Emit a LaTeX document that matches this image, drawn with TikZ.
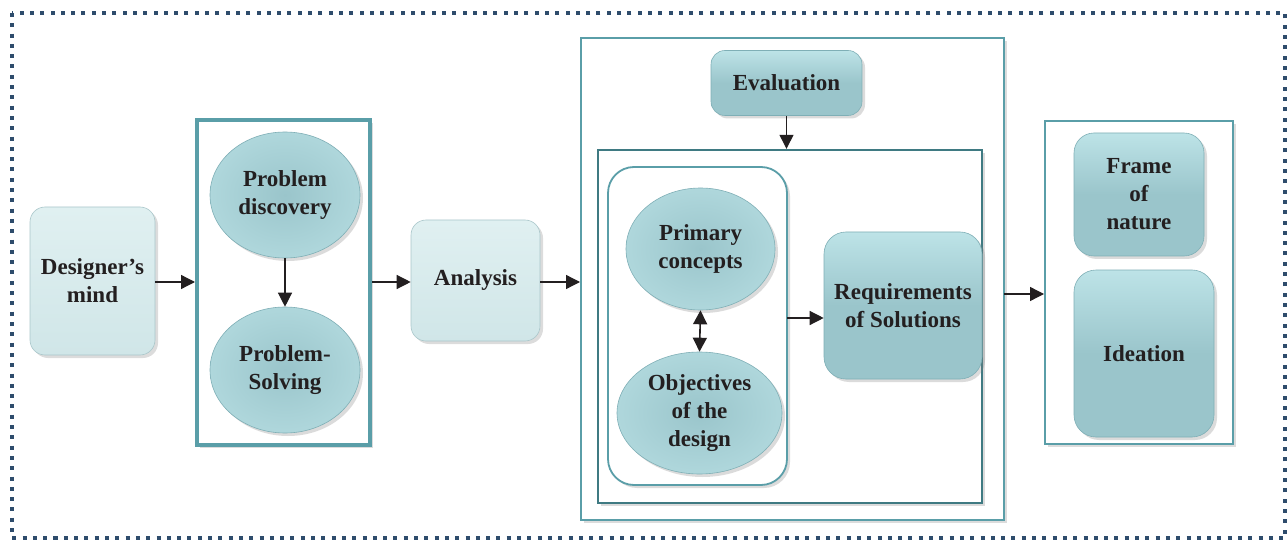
\documentclass[tikz,border=0pt]{standalone}
\usepackage{fontspec}
\setmainfont{Liberation Serif}
\usetikzlibrary{shapes.geometric,arrows.meta,shadows,calc}

\definecolor{ink}{HTML}{231F20}
\definecolor{teal}{HTML}{5A9EA8}
\definecolor{tealdark}{HTML}{3F7A82}
\definecolor{dotblue}{HTML}{2E4C6C}
\definecolor{tealfill}{HTML}{9AC5CB}
\definecolor{teallight}{HTML}{BDE3E7}
\definecolor{tealedge}{HTML}{7FAFB6}
\definecolor{palefill}{HTML}{D0E6E8}
\definecolor{palelight}{HTML}{E0F0F1}
\definecolor{paleedge}{HTML}{A9C6CA}

\tikzset{
  lbl/.style={font=\bfseries\fontsize{23}{28}\selectfont, text=ink, align=center},
  softshadow/.style={drop shadow={shadow xshift=3pt, shadow yshift=-3pt, opacity=.28, fill=gray}},
  palebox/.style={lbl, rectangle, rounded corners=15pt, draw=paleedge, line width=.6pt,
    top color=palelight, bottom color=palefill, softshadow, inner sep=0pt},
  tealbox/.style={lbl, rectangle, rounded corners=18pt, draw=tealedge, line width=.6pt,
    top color=teallight, bottom color=tealfill, middle color=tealfill, softshadow, inner sep=0pt},
  tealell/.style={lbl, ellipse, draw=tealedge, line width=.6pt,
    inner color=tealfill, outer color=teallight!60!tealfill, softshadow, inner sep=0pt},
  frame/.style={rectangle, draw=teal, fill=white, softshadow, inner sep=0pt},
  tip/.tip={Triangle[length=14pt,width=14pt]},
  arr/.style={-tip, line width=1.3pt, draw=ink},
  darr/.style={tip-tip, line width=1.6pt, draw=ink}
}

\begin{document}
\begin{tikzpicture}[x=1pt,y=-1pt]
  \useasboundingbox (0,0) rectangle (1288,540);

  % dotted outer border
  \draw[dotblue, line width=4pt, dash pattern=on 4pt off 6.3pt]
    (12,13) rectangle (1285,538);

  % left stage
  \node[palebox, minimum width=125, minimum height=148] (dm) at (92.5,281) {Designer's\\mind};

  \node[frame, line width=4pt, minimum width=173, minimum height=325] (g1) at (283.5,282.5) {};
  \node[tealell, minimum width=150, minimum height=126] (pd) at (285,195) {Problem\\discovery};
  \node[tealell, minimum width=150, minimum height=126] (ps) at (285,370) {Problem-\\Solving};

  \node[palebox, minimum width=129, minimum height=121] (an) at (475.5,280.5) {Analysis};

  % central stage
  \node[frame, line width=2pt, minimum width=423, minimum height=482] (g2) at (792.5,279) {};
  \node[tealbox, rounded corners=14pt, minimum width=151, minimum height=65] (ev) at (786.5,83) {Evaluation};
  \node[frame, draw=tealdark, line width=2.4pt, minimum width=384, minimum height=353] (inner) at (790,326.5) {};
  \node[frame, rounded corners=26pt, line width=1.8pt, minimum width=179, minimum height=318] (cont) at (697.5,326) {};
  \node[tealell, minimum width=149, minimum height=122] (pc) at (700.5,249) {Primary\\concepts};
  \node[tealell, minimum width=165, minimum height=122] (ob) at (699.5,413) {Objectives\\of the\\design};
  \node[tealbox, rounded corners=22pt, minimum width=158, minimum height=147] (req) at (903,305.5) {Requirements\\of Solutions};

  % right stage
  \node[frame, line width=2pt, minimum width=188, minimum height=323] (g3) at (1139,282.5) {};
  \node[tealbox, rounded corners=20pt, minimum width=130, minimum height=123] (fn) at (1139,194.5) {Frame\\of\\nature};
  \node[tealbox, rounded corners=22pt, minimum width=140, minimum height=167] (id) at (1144,353.5) {Ideation};

  % connectors
  \draw[arr] (dm.east |- 0,282) -- (g1.west |- 0,282);
  \draw[arr] (pd.south) -- (ps.north);
  \draw[arr] (g1.east |- 0,282) -- (an.west |- 0,282);
  \draw[arr] (an.east |- 0,282) -- (g2.west |- 0,282);
  \draw[arr] (ev.south) -- (ev.south |- inner.north);
  \draw[darr] (pc.south) -- (ob.north);
  \coordinate (c1) at (787,318);
  \draw[arr] (c1) -- (c1 -| req.west);
  \coordinate (c2) at (1004,294);
  \draw[arr] (c2) -- (c2 -| g3.west);
\end{tikzpicture}
\end{document}
